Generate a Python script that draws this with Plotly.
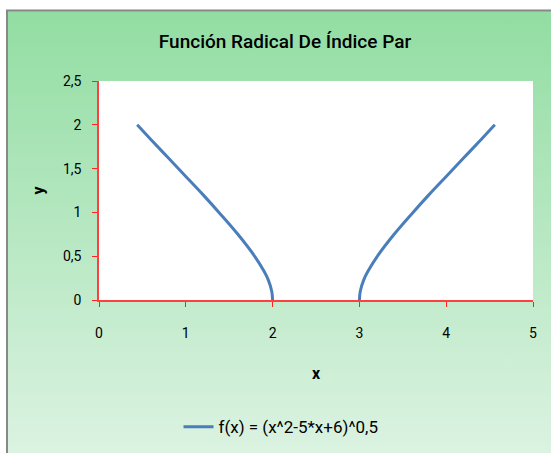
import base64
import plotly.graph_objects as go

# Data (two branches of the curve)
x_left = [0.44, 0.6, 0.8, 1.0, 1.2, 1.4, 1.6, 1.8, 1.9, 1.95, 1.99, 2.0]
y_left = [2.0, 1.83, 1.62, 1.41, 1.2, 0.98, 0.75, 0.49, 0.33, 0.23, 0.1, 0.0]
x_right = [3.0, 3.01, 3.05, 3.1, 3.2, 3.4, 3.6, 3.8, 4.0, 4.2, 4.4, 4.56]
y_right = [0.0, 0.1, 0.23, 0.33, 0.49, 0.75, 0.98, 1.2, 1.41, 1.62, 1.83, 2.0]

series_name = "f(x) = (x^2-5*x+6)^0,5"
title_text = "Función Radical De Índice Par"
x_title = "x"
y_title = "y"

W, H = 551, 458
L, R, T, B = 99, 18, 81, 155
pw, ph = W - L - R, H - T - B

svg = f'''<svg xmlns="http://www.w3.org/2000/svg" width="{W}" height="{H}" viewBox="0 0 {W} {H}" preserveAspectRatio="none">
<defs><linearGradient id="g" x1="0" y1="0" x2="0" y2="1">
<stop offset="0" stop-color="#92DDA2"/><stop offset="1" stop-color="#DDF3E3"/></linearGradient></defs>
<rect x="0" y="0" width="{W}" height="{H}" fill="#ffffff"/>
<rect x="7" y="9.5" width="{W}" height="{H}" fill="url(#g)" stroke="#888888" stroke-width="2"/>
</svg>'''
uri = "data:image/svg+xml;base64," + base64.b64encode(svg.encode()).decode()

font_fam = "Roboto, sans-serif"

xs = x_left + [None] + x_right
ys = y_left + [None] + y_right

fig = go.Figure()
fig.add_trace(go.Scatter(x=xs, y=ys, mode="lines", name=series_name,
                         line=dict(color="#4A7EBB", width=3, shape="spline"),
                         connectgaps=False, showlegend=True))

fig.update_layout(
    width=W, height=H,
    margin=dict(l=L, r=R, t=T, b=B, pad=0),
    paper_bgcolor="white", plot_bgcolor="white",
    separators=", ",
    font=dict(family=font_fam, size=14, color="black"),
    title=dict(text=title_text, x=(285 - L) / pw, xanchor="center", xref="paper",
               y=1 - 41 / H, yanchor="middle",
               font=dict(family=font_fam, size=19, color="black", weight=500)),
    showlegend=True,
    legend=dict(orientation="h", x=(281 - L) / pw, y=(303 - 432) / ph,
                xanchor="center", yanchor="middle", bgcolor="rgba(0,0,0,0)",
                font=dict(family=font_fam, size=17)),
    images=[dict(source=uri, xref="paper", yref="paper",
                 x=-L / pw, y=(H - B) / ph, sizex=W / pw, sizey=H / ph,
                 xanchor="left", yanchor="top", sizing="stretch", layer="below")],
    shapes=[dict(type="rect", xref="paper", yref="paper", x0=0, x1=1, y0=0, y1=1,
                 fillcolor="white", line=dict(width=0), layer="below")],
)
fig.update_xaxes(range=[0, 5], dtick=1, showgrid=False, zeroline=False,
                 showline=True, linecolor="#FF4040", linewidth=1.5,
                 ticks="outside", ticklen=5, tickcolor="#FF2020",
                 ticklabelstandoff=14, tickfont=dict(size=14),
                 title=dict(text="<b>" + x_title + "</b>", standoff=28,
                            font=dict(size=16)))
fig.update_yaxes(range=[0, 2.5], dtick=0.5, tickformat=".1~f", showgrid=False, zeroline=False,
                 showline=True, linecolor="#FF4040", linewidth=1.5,
                 ticks="outside", ticklen=5, tickcolor="#FF2020",
                 ticklabelstandoff=8, tickfont=dict(size=14),
                 title=dict(text="<b>" + y_title + "</b>", standoff=14,
                            font=dict(size=16)))

fig.write_html("out.html", config={"displayModeBar": False},
               post_script="document.body.style.margin='0px';")
